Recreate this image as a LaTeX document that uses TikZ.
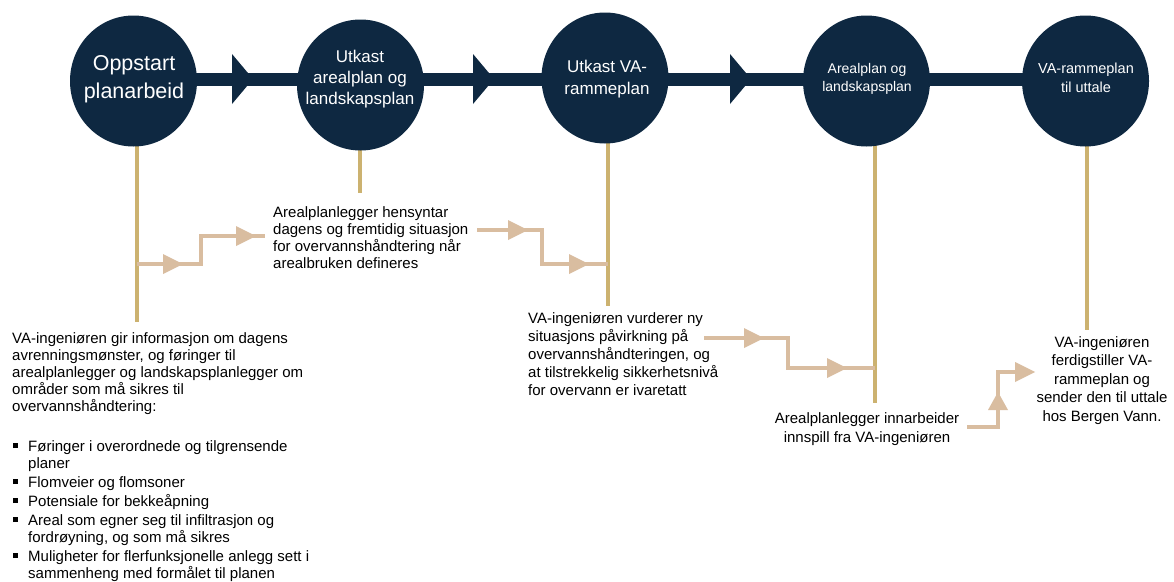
\documentclass[tikz,border=0pt]{standalone}
\usepackage{fontspec}
\setmainfont{Liberation Sans}
\usetikzlibrary{shapes.geometric}
\definecolor{navy}{RGB}{14,40,65}
\definecolor{gold}{RGB}{204,178,112}
\definecolor{tanc}{RGB}{217,189,160}
\newcommand{\tipR}[1]{\fill[tanc] (#1) -- ++(-20,-10) -- ++(0,20) -- cycle;}
\newcommand{\tipU}[1]{\fill[tanc] (#1) -- ++(-10,18) -- ++(20,0) -- cycle;}
\newcommand{\bigtip}[1]{\fill[navy] (#1) -- ++(-21,-25) -- ++(0,50) -- cycle;}
\newcommand{\bitem}[1]{\hangindent=15pt\hangafter=1\noindent\makebox[15pt][l]{\rule[3pt]{5pt}{5pt}}#1\par}
\tikzset{
  stage/.style={ellipse, fill=navy, minimum width=127pt, minimum height=131pt, inner sep=0pt},
  stagetext/.style={text=white, align=center, inner sep=0pt},
  stem/.style={draw=gold, line width=3.5pt},
  flow/.style={draw=tanc, line width=4.5pt},
  body/.style={inner sep=0pt, text=black},
}
\begin{document}
\begin{tikzpicture}[x=1pt,y=-1pt]
\useasboundingbox (0,0) rectangle (1174,581);
\fill[white] (0,0) rectangle (1174,581);
% main line
\coordinate (m1) at (134,79);
\coordinate (m5) at (1086,79);
\draw[navy, line width=13pt] (m1) -- (m5);
\coordinate (a1) at (253,79);
\coordinate (a2) at (494,79);
\coordinate (a3) at (751,79);
\bigtip{a1}
\bigtip{a2}
\bigtip{a3}
% stems
\coordinate (p1a) at (137,140); \coordinate (p1b) at (137,322);
\coordinate (p2a) at (360,140); \coordinate (p2b) at (360,193);
\coordinate (p3a) at (608,140); \coordinate (p3b) at (608,306);
\coordinate (p4a) at (875,140); \coordinate (p4b) at (875,403);
\coordinate (p5a) at (1087,140); \coordinate (p5b) at (1087,330);
\draw[stem] (p1a) -- (p1b);
\draw[stem] (p2a) -- (p2b);
\draw[stem] (p3a) -- (p3b);
\draw[stem] (p4a) -- (p4b);
\draw[stem] (p5a) -- (p5b);
% circles
\node[stage] (c1) at (133.5,81) {};
\node[stage] (c2) at (360.5,85) {};
\node[stage] (c3) at (605,78) {};
\node[stage] (c4) at (866.5,81) {};
\node[stage] (c5) at (1085.5,81) {};
\node[stagetext, font={\fontsize{21.5}{28}\selectfont}] (t1) at (134,79) {Oppstart\\planarbeid};
\node[stagetext, font={\fontsize{17}{21}\selectfont}] (t2) at (360,79) {Utkast\\arealplan og\\landskapsplan};
\node[stagetext, font={\fontsize{17}{22}\selectfont}] (t3) at (607,79) {Utkast VA-\\rammeplan};
\node[stagetext, font={\fontsize{14}{17.5}\selectfont}] (t4) at (867,79) {Arealplan og\\landskapsplan};
\node[stagetext, font={\fontsize{14.5}{19}\selectfont}] (t5) at (1086,77.5) {VA-rammeplan\\til uttale};
% flows
\coordinate (f1a) at (137,264); \coordinate (f1b) at (201,264); \coordinate (f1c) at (201,236); \coordinate (f1d) at (265,236);
\draw[flow] (f1a) -- (f1b) -- (f1c) -- (f1d);
\coordinate (h1) at (183,264); \coordinate (h2) at (256,236);
\tipR{h1} \tipR{h2}
\coordinate (f2a) at (477,230); \coordinate (f2b) at (542,230); \coordinate (f2c) at (542,264); \coordinate (f2d) at (608,264);
\draw[flow] (f2a) -- (f2b) -- (f2c) -- (f2d);
\coordinate (h3) at (528,230); \coordinate (h4) at (589,264);
\tipR{h3} \tipR{h4}
\coordinate (f3a) at (704,338); \coordinate (f3b) at (788,338); \coordinate (f3c) at (788,368); \coordinate (f3d) at (875,368);
\draw[flow] (f3a) -- (f3b) -- (f3c) -- (f3d);
\coordinate (h5) at (764,338); \coordinate (h6) at (847,368);
\tipR{h5} \tipR{h6}
\coordinate (f4a) at (967,427); \coordinate (f4b) at (998,427); \coordinate (f4c) at (998,372); \coordinate (f4d) at (1018,372);
\draw[flow] (f4a) -- (f4b) -- (f4c) -- (f4d);
\coordinate (h7) at (998,392); \coordinate (h8) at (1035,372);
\tipU{h7} \tipR{h8}
% texts
\node[body, anchor=base west] (xA) at (12,343) {\parbox[t]{330pt}{\fontsize{15}{17}\selectfont\raggedright
VA-ingeniøren gir informasjon om dagens\\
avrenningsmønster, og føringer til\\
arealplanlegger og landskapsplanlegger om\\
områder som må sikres til\\
overvannshåndtering:}};
\node[body, anchor=base west] (xB) at (13,451) {\parbox[t]{330pt}{\fontsize{15}{17}\selectfont\raggedright\parskip=2pt
\bitem{Føringer i overordnede og tilgrensende\newline planer}
\bitem{Flomveier og flomsoner}
\bitem{Potensiale for bekkeåpning}
\bitem{Areal som egner seg til infiltrasjon og\newline fordrøyning, og som må sikres}
\bitem{Muligheter for flerfunksjonelle anlegg sett i\newline sammenheng med formålet til planen}}};
\node[body, anchor=base west] (xC) at (273,217) {\parbox[t]{230pt}{\fontsize{15}{17}\selectfont\raggedright
Arealplanlegger hensyntar\\
dagens og fremtidig situasjon\\
for overvannshåndtering når\\
arealbruken defineres}};
\node[body, anchor=base west] (xD) at (528,323) {\parbox[t]{240pt}{\fontsize{15}{18}\selectfont\raggedright
VA-ingeniøren vurderer ny\\
situasjons påvirkning på\\
overvannshåndteringen, og\\
at tilstrekkelig sikkerhetsnivå\\
for overvann er ivaretatt}};
\node[body, anchor=base] (xE) at (867,423) {\parbox[t]{220pt}{\fontsize{15}{19}\selectfont\centering
Arealplanlegger innarbeider\\
innspill fra VA-ingeniøren}};
\node[body, anchor=base] (xF) at (1102,347) {\parbox[t]{160pt}{\fontsize{15}{18.5}\selectfont\centering
VA-ingeniøren\\
ferdigstiller VA-\\
rammeplan og\\
sender den til uttale\\
hos Bergen Vann.}};
\end{tikzpicture}
\end{document}
